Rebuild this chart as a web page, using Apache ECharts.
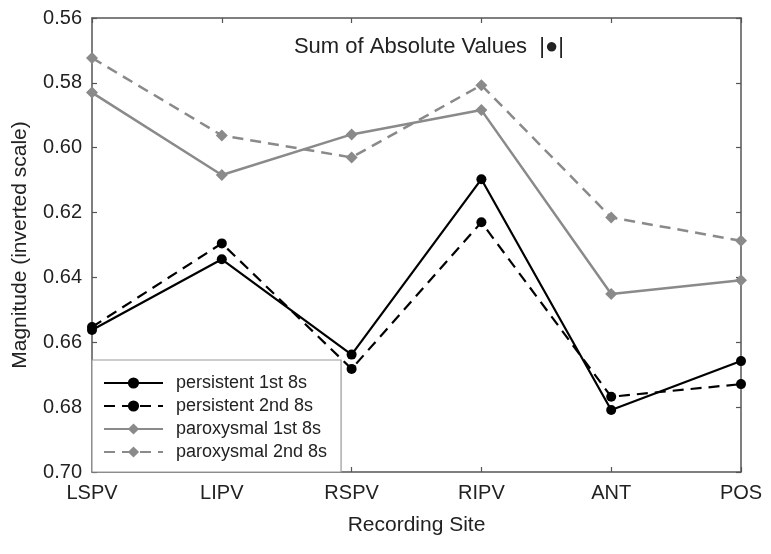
<!DOCTYPE html>
<html><head><meta charset="utf-8">
<script src="https://cdn.jsdelivr.net/npm/echarts@6/dist/echarts.min.js"></script>
<style>html,body{margin:0;padding:0;background:#fff}#c{width:771px;height:554px}</style>
</head><body><div id="c"></div>
<script>
const categories = ['LSPV','LIPV','RSPV','RIPV','ANT','POS'];
const persistent1 = [0.6562, 0.6344, 0.6638, 0.6097, 0.6809, 0.6658];
const persistent2 = [0.6553, 0.6295, 0.6682, 0.6230, 0.6768, 0.6729];
const paroxysmal1 = [0.5830, 0.6084, 0.5959, 0.5884, 0.6451, 0.6409];
const paroxysmal2 = [0.5723, 0.5962, 0.6030, 0.5807, 0.6215, 0.6287];
const seriesNames = ['persistent 1st 8s','persistent 2nd 8s','paroxysmal 1st 8s','paroxysmal 2nd 8s'];

const FONT = 'Liberation Sans, Arial, sans-serif';
const AX = '#555';
const TXT = '#222';
const chart = echarts.init(document.getElementById('c'), null, {renderer:'canvas'});
function mk(name, data, color, dashed, symbol, size, width){
  return {name, type:'line', data, xAxisIndex:0, yAxisIndex:0,
    symbol, symbolSize:size, showSymbol:true,
    lineStyle:{color, width, type: dashed ? [11,7] : 'solid'},
    itemStyle:{color, borderWidth:0}, emphasis:{disabled:true}, animation:false, z: color==='#000' ? 3 : 2};
}
chart.setOption({
  animation:false,
  textStyle:{fontFamily:FONT},
  grid:{left:92, right:30, top:18, bottom:82, containLabel:false},
  title:{text:'Sum of Absolute Values  |●|', left:424, top:31, textAlign:'center',
    textStyle:{fontFamily:FONT, fontSize:22, fontWeight:'normal', color:TXT}},
  legend:{orient:'vertical', left:92, top:360, data:seriesNames,
    itemWidth:59, itemHeight:14, itemGap:5, padding:[14,14,11,11],
    backgroundColor:'#fff', borderColor:'#999', borderWidth:1.2, borderRadius:0,
    textStyle:{fontFamily:FONT, fontSize:18, color:TXT, lineHeight:18, padding:[0,0,0,8]}, z:10},
  xAxis:[{type:'category', data:categories, boundaryGap:false,
    name:'Recording Site', nameLocation:'middle', nameGap:43,
    nameTextStyle:{fontFamily:FONT, fontSize:21, color:TXT},
    axisLine:{lineStyle:{color:AX, width:1.5}},
    axisTick:{inside:true, length:5, lineStyle:{color:AX, width:1.2}},
    axisLabel:{fontFamily:FONT, fontSize:20, color:TXT, margin:11},
    splitLine:{show:false}},
   {type:'category', data:categories, boundaryGap:false, position:'top',
    axisLine:{lineStyle:{color:AX, width:1.5}},
    axisTick:{inside:true, length:5, lineStyle:{color:AX, width:1.2}},
    axisLabel:{show:false}, splitLine:{show:false}}],
  yAxis:[{type:'value', inverse:true, min:0.56, max:0.70, interval:0.02,
    name:'Magnitude (inverted scale)', nameLocation:'middle', nameGap:61, nameRotate:90,
    nameTextStyle:{fontFamily:FONT, fontSize:21, color:TXT},
    axisLine:{show:true, lineStyle:{color:AX, width:1.5}},
    axisTick:{show:true, inside:true, length:5, lineStyle:{color:AX, width:1.2}},
    axisLabel:{fontFamily:FONT, fontSize:20, color:TXT, margin:10, formatter:v=>v.toFixed(2)},
    splitLine:{show:false}},
   {type:'value', inverse:true, min:0.56, max:0.70, interval:0.02, position:'right',
    axisLine:{show:true, lineStyle:{color:AX, width:1.5}},
    axisTick:{show:true, inside:true, length:5, lineStyle:{color:AX, width:1.2}},
    axisLabel:{show:false}, splitLine:{show:false}}],
  series:[
    mk(seriesNames[0], persistent1, '#000', false, 'circle', 10, 2.2),
    mk(seriesNames[1], persistent2, '#000', true, 'circle', 10, 2.2),
    mk(seriesNames[2], paroxysmal1, '#8a8a8a', false, 'diamond', 12, 2.5),
    mk(seriesNames[3], paroxysmal2, '#8a8a8a', true, 'diamond', 12, 2.5)
  ]
});
</script></body></html>
